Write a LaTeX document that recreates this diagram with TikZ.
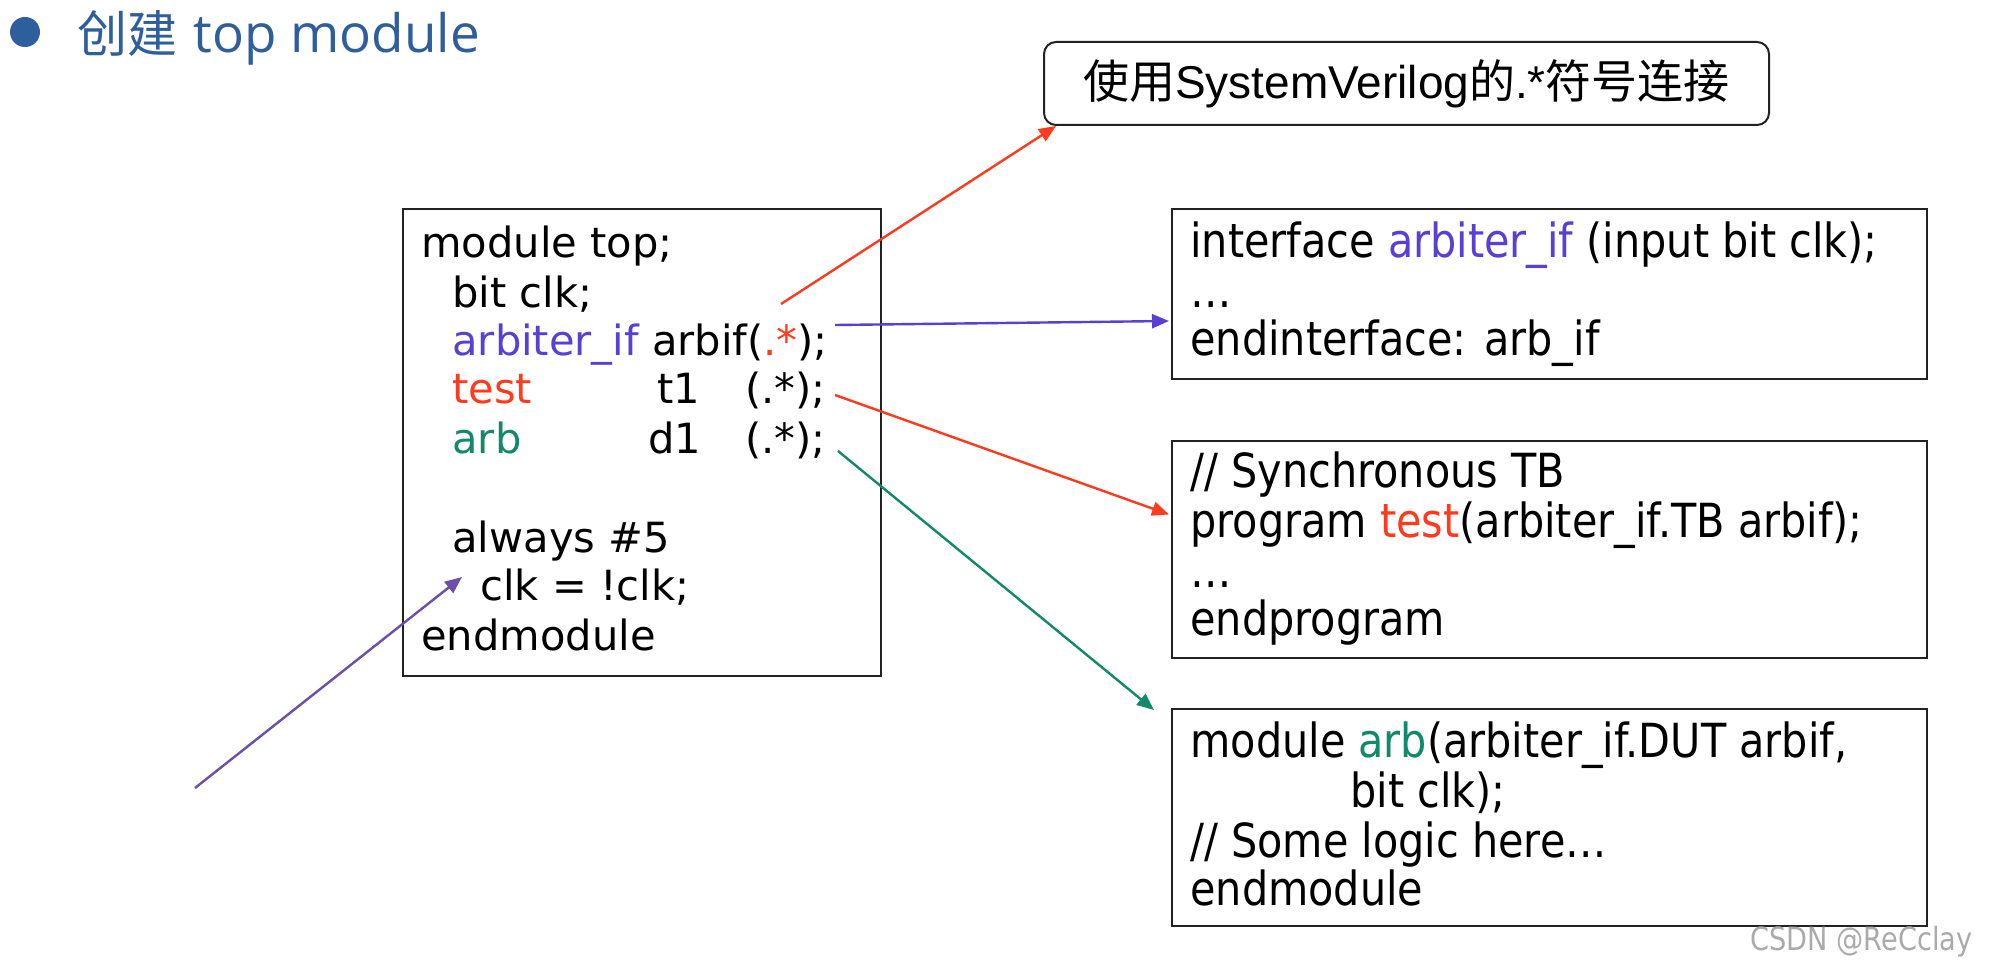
\documentclass[tikz,border=0pt]{standalone}
\usepackage{fontspec}
\usetikzlibrary{arrows.meta,calc}
\setmainfont{DejaVu Sans}
\newfontfamily\codefont{DejaVu Sans}
\newfontfamily\codefontc[FakeStretch=0.88]{DejaVu Sans}
\newfontfamily\cjk{Noto Sans CJK SC}
\newfontfamily\latinfont{Liberation Sans}
\newfontfamily\titlefont{Open Sans}
\newfontfamily\wmfont[FakeStretch=0.85]{DejaVu Sans}
\definecolor{ifblue}{HTML}{5A3FD4}
\definecolor{tbred}{HTML}{FF3A1E}
\definecolor{arbgreen}{HTML}{12896A}
\definecolor{clkpurple}{HTML}{6B4FAA}
\definecolor{titleblue}{HTML}{2F5E9C}
\definecolor{boxline}{HTML}{222222}
\definecolor{wmgray}{HTML}{ABABAB}
\tikzset{
  codebox/.style={draw=boxline, line width=1pt, inner sep=0pt, anchor=north west},
  codeline/.style={inner sep=0pt, anchor=base west, font=\codefont\fontsize{20.8pt}{24.5pt}\selectfont},
  codelinec/.style={inner sep=0pt, anchor=base west, font=\codefontc\fontsize{23.5pt}{24.5pt}\selectfont},
  conn/.style={line width=1.2pt, -{Triangle[length=8.5pt,width=7pt]}},
}
\begin{document}
\begin{tikzpicture}[x=0.5pt,y=-0.5pt]
\fill[white] (0,0) rectangle (2000,973);
\useasboundingbox (0,0) rectangle (2000,973);
% title
\fill[titleblue] (25,32) circle (7.5pt);
\node[inner sep=0pt, anchor=base west, text=titleblue] (title) at (77,53)
  {{\cjk\fontsize{25pt}{30pt}\selectfont 创建}\hspace{8pt}{\titlefont\fontsize{26.5pt}{30pt}\selectfont top module}};
% note box
\node[draw=boxline, line width=1pt, rounded corners=6pt, minimum width=362.5pt, minimum height=41.5pt, inner sep=0pt, anchor=north west] (note) at (1043,41) {};
\node[inner sep=0pt, font=\fontsize{23pt}{28pt}\selectfont] (notetext) at (note.center)
  {{\cjk 使用}{\latinfont SystemVerilog}{\cjk 的}{\latinfont .*}{\cjk 符号连接}};
% main box
\node[codebox, minimum width=239pt, minimum height=233.5pt] (top) at (402,208) {};
\node[codeline] (L1) at (421,257) {module top;};
\node[codeline] (L2) at (452,307) {bit clk;};
\node[codeline] (L3) at (452,355) {\textcolor{ifblue}{arbiter\_if} arbif(\textcolor{tbred}{.*});};
\node[codeline, text=tbred] (L4a) at (452,403) {test};
\node[codeline] (L4b) at (657,403) {t1};
\node[codeline] (L4c) at (745,403) {(.*);};
\node[codeline, text=arbgreen] (L5a) at (452,453) {arb};
\node[codeline] (L5b) at (648,453) {d1};
\node[codeline] (L5c) at (745,453) {(.*);};
\node[codeline] (L6) at (452,552) {always \#5};
\node[codeline] (L7) at (480,600) {clk = !clk;};
\node[codeline] (L8) at (421,650) {endmodule};
% right box 1
\node[codebox, minimum width=377.5pt, minimum height=85pt] (box1) at (1171,208) {};
\node[codelinec] (R1a) at (1190,257) {interface \textcolor{ifblue}{arbiter\_if} (input bit clk);};
\node[codelinec] (R1b) at (1190,307) {\ldots};
\node[codelinec] (R1c) at (1190,355) {endinterface: arb\_if};
% right box 2
\node[codebox, minimum width=377.5pt, minimum height=108.5pt] (box2) at (1171,440) {};
\node[codelinec] (R2a) at (1190,487) {// Synchronous TB};
\node[codelinec] (R2b) at (1190,537) {program \textcolor{tbred}{test}(arbiter\_if.TB arbif);};
\node[codelinec] (R2c) at (1190,587) {\ldots};
\node[codelinec] (R2d) at (1190,635) {endprogram};
% right box 3
\node[codebox, minimum width=377.5pt, minimum height=108.5pt] (box3) at (1171,708) {};
\node[codelinec] (R3a) at (1190,757) {module \textcolor{arbgreen}{arb}(arbiter\_if.DUT arbif,};
\node[codelinec] (R3b) at (1350,807) {bit clk);};
\node[codelinec] (R3c) at (1190,857) {// Some logic here\ldots};
\node[codelinec] (R3d) at (1190,905) {endmodule};
% watermark
\node[inner sep=0pt, anchor=base west, text=wmgray, font=\wmfont\fontsize{16pt}{18pt}\selectfont] (wm) at (1750,950) {CSDN @ReCclay};
% connectors
\coordinate (s1) at (781,304);
\coordinate (s2) at (835,325);
\coordinate (s3) at (835,395);
\coordinate (s4) at (838,451);
\coordinate (s5) at (195,788);
\draw[conn, tbred] (s1) -- ($(note.south west)+(13,0)$);
\draw[conn, ifblue] (s2) -- ($(box1.west)+(-2,27)$);
\draw[conn, tbred] (s3) -- ($(box2.west)+(-2,-35)$);
\draw[conn, arbgreen] (s4) -- ($(box3.north west)+(-17,2)$);
\draw[conn, clkpurple] (s5) -- ($(L7.base west)+(-18,-23)$);
\end{tikzpicture}
\end{document}
